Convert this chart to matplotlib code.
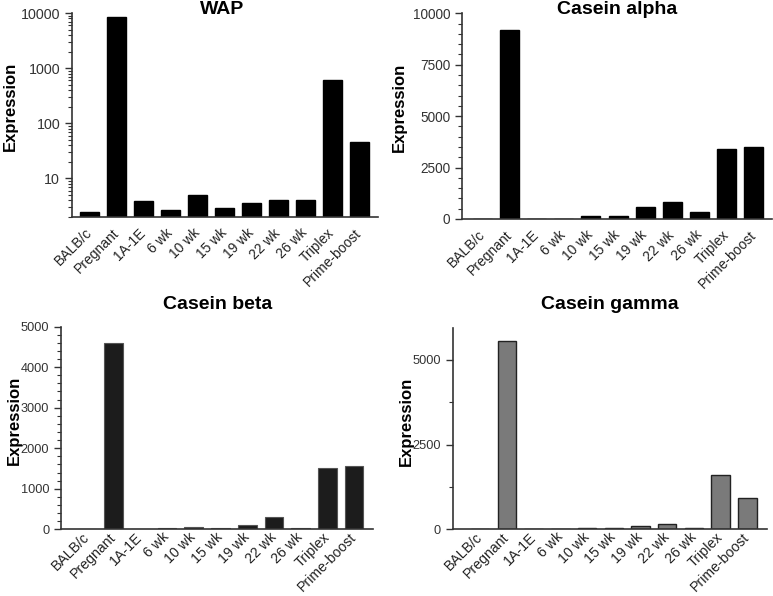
import numpy as np
import matplotlib
matplotlib.use("Agg")
import matplotlib.pyplot as plt
from matplotlib.ticker import MultipleLocator, LogLocator, NullFormatter, FixedLocator

plt.rcParams["font.family"] = ["Liberation Sans", "DejaVu Sans"]

groups = ["BALB/c", "Pregnant", "1A-1E", "6 wk", "10 wk", "15 wk",
          "19 wk", "22 wk", "26 wk", "Triplex", "Prime-boost"]

wap = [2.5, 8600, 3.9, 2.65, 5.1, 2.9, 3.6, 4.0, 4.0, 612, 46]
casein_alpha = [3, 9190, 3, 3, 150, 140, 600, 840, 340, 3400, 3500]
casein_beta = [2, 4590, 2, 25, 57, 25, 100, 304, 41, 1513, 1562]
casein_gamma = [2, 5570, 2, 2, 30, 25, 89, 167, 25, 1604, 916]

W, H = 773, 596
fig = plt.figure(figsize=(W / 100, H / 100), dpi=100)

ax_wap = fig.add_axes([0.0931, 0.636, 0.396, 0.342])
ax_a = fig.add_axes([0.598, 0.6326, 0.401, 0.345])
ax_b = fig.add_axes([0.0789, 0.112, 0.4036, 0.340])
ax_g = fig.add_axes([0.5856, 0.112, 0.4062, 0.3372])

x = np.arange(len(groups))


def style(ax, title, xlim, title_xy, ylab_xy, ysize, xsize, xpad):
    # title and y label placed in figure pixels to match the reference
    fig.text(title_xy[0] / W, 1 - title_xy[1] / H, title, fontsize=14,
             fontweight="bold", ha="center", va="baseline")
    fig.text(ylab_xy[0] / W, 1 - ylab_xy[1] / H, "Expression", fontsize=12,
             fontweight="bold", ha="center", va="center", rotation=90)
    for s in ["top", "right"]:
        ax.spines[s].set_visible(False)
    for s in ["left", "bottom"]:
        ax.spines[s].set_linewidth(1.2)
        ax.spines[s].set_color("#333333")
    ax.set_xlim(*xlim)
    ax.set_xticks(x)
    ax.set_xticklabels(groups, rotation=45, ha="right", va="center",
                       rotation_mode="anchor", fontsize=xsize, color="#222222")
    ax.tick_params(axis="x", length=0, pad=xpad)
    ax.tick_params(axis="y", which="major", length=5, width=1, color="#333333",
                   labelsize=ysize, labelcolor="#333333")
    ax.tick_params(axis="y", which="minor", length=3, width=0.8, color="#333333")


# WAP (log scale)
ax_wap.bar(x, wap, width=0.7, color="black", edgecolor="black")
ax_wap.set_yscale("log")
ax_wap.set_ylim(2, 10000)
ax_wap.yaxis.set_major_locator(FixedLocator([10, 100, 1000, 10000]))
ax_wap.yaxis.set_minor_locator(LogLocator(base=10, subs=np.arange(2, 10)))
ax_wap.yaxis.set_minor_formatter(NullFormatter())
ax_wap.set_yticklabels(["10", "100", "1000", "10000"])
style(ax_wap, "WAP", (-0.65, 10.7), (222, 14), (10, 106), 10.3, 10, 10)

# Casein alpha
ax_a.bar(x, casein_alpha, width=0.7, color="black", edgecolor="black")
ax_a.set_ylim(0, 10000)
ax_a.yaxis.set_major_locator(MultipleLocator(2500))
ax_a.yaxis.set_minor_locator(MultipleLocator(500))
style(ax_a, "Casein alpha", (-0.74, 10.68), (617, 14), (399, 107), 9.8, 10, 10)

# Casein beta
ax_b.bar(x, casein_beta, width=0.7, color="#1c1c1c", edgecolor="#555555", linewidth=0.8)
ax_b.set_ylim(0, 5000)
ax_b.yaxis.set_major_locator(MultipleLocator(1000))
ax_b.yaxis.set_minor_locator(MultipleLocator(200))
style(ax_b, "Casein beta", (-0.97, 10.71), (218, 309), (14, 420), 9.2, 10.2, 4)

# Casein gamma
ax_g.bar(x, casein_gamma, width=0.69, color="#7a7a7a", edgecolor="#222222", linewidth=1)
ax_g.set_ylim(0, 5936)
ax_g.yaxis.set_major_locator(MultipleLocator(2500))
ax_g.yaxis.set_minor_locator(MultipleLocator(1250))
style(ax_g, "Casein gamma", (-1.03, 10.72), (610, 309), (406, 421), 9.2, 10.2, 4)

fig.savefig("out.png", dpi=100)
plt.close(fig)
